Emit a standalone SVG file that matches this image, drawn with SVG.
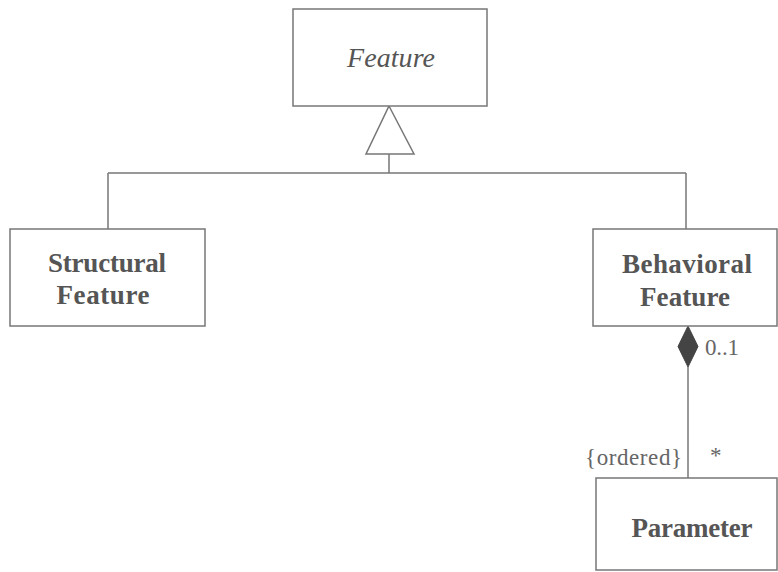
<svg xmlns="http://www.w3.org/2000/svg" width="778" height="572" viewBox="0 0 778 572">
<style>
.box{fill:#fff;stroke:#777;stroke-width:1.5}
.ln{fill:none;stroke:#777;stroke-width:1.5}
.t{font-family:"Liberation Serif","Times New Roman",serif;fill:#555;font-size:27px;text-anchor:middle}
.b{font-weight:bold}
.i{font-style:italic;font-size:28px}
.s{font-family:"Liberation Serif","Times New Roman",serif;fill:#666;font-size:23px}
</style>
<rect width="778" height="572" fill="#fff"/>
<g id="connectors">
<path class="ln" d="M389 154 V173 M108 173 H686 M108 173 V229 M686 173 V229"/>
<polygon class="box" points="389,106 414,154 366,154"/>
<path class="ln" d="M688 367 V478"/>
<polygon points="688,326 698,346.5 688,367 678,346.5" fill="#444" stroke="#444" stroke-width="1"/>
<text class="s" x="705" y="355" textLength="34">0..1</text>
<text class="s" x="585" y="465" font-size="24" textLength="97">{ordered}</text>
<text class="s" x="710" y="463" font-size="30">*</text>
</g>
<g id="feature">
<rect class="box" x="293" y="9" width="194" height="97"/>
<text class="t i" x="391" y="67" textLength="88">Feature</text>
</g>
<g id="structural-feature">
<rect class="box" x="10" y="229" width="195" height="97"/>
<text class="t b" x="107" y="272" textLength="118">Structural</text>
<text class="t b" x="103" y="304" textLength="93">Feature</text>
</g>
<g id="behavioral-feature">
<rect class="box" x="593" y="229" width="184" height="97"/>
<text class="t b" x="687" y="273" textLength="130">Behavioral</text>
<text class="t b" x="685" y="306" textLength="90">Feature</text>
</g>
<g id="parameter">
<rect class="box" x="596" y="478" width="181" height="92"/>
<text class="t b" x="692" y="537" textLength="121">Parameter</text>
</g>
</svg>
